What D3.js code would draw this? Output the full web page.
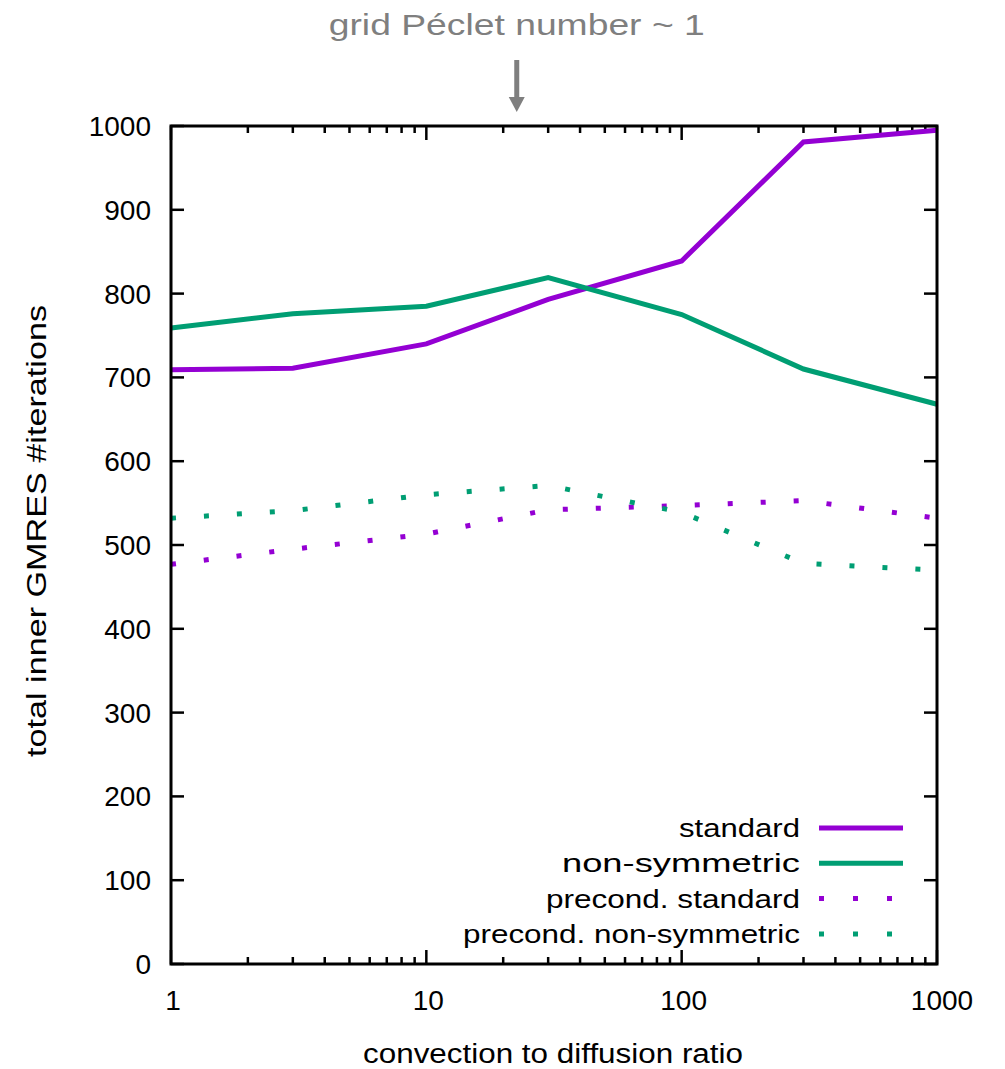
<!DOCTYPE html>
<html>
<head>
    <meta charset="utf-8">
    <title>GMRES iterations</title>
    <script type="text/javascript" src="https://d3js.org/d3.v7.min.js"></script>
    <style>
        body{ margin:0px; background:#ffffff; }
        svg{ position:absolute; left:0px; top:0px; }
        text{ font-family:"Liberation Sans", Arial, sans-serif; }
    </style>
</head>
<body>
    <div id="chart"></div>
    <script type="text/javascript">
        // data
        var ratios = [1, 3, 10, 30, 100, 300, 1000]
        var standard = [709, 711, 740, 793, 839, 981, 995]
        var nonSymmetric = [759, 776, 785, 819, 775, 710, 668]
        var precStandard = [477, 495, 513, 542, 547, 553, 532]
        var precNonSymmetric = [532, 541, 560, 571, 539, 478, 470]
        var xTicks = [1, 10, 100, 1000]
        var yTicks = [0, 100, 200, 300, 400, 500, 600, 700, 800, 900, 1000]
        var pecletRatio = 22.6

        var series = [
            {name:"standard", values:standard, color:"#9400d3", dotted:false},
            {name:"non-symmetric", values:nonSymmetric, color:"#009e73", dotted:false},
            {name:"precond. standard", values:precStandard, color:"#9400d3", dotted:true},
            {name:"precond. non-symmetric", values:precNonSymmetric, color:"#009e73", dotted:true}
        ]

        var width = 1005, height = 1069
        var pLeft = 171, pRight = 937, pTop = 126, pBottom = 964

        var svg = d3.select("#chart").append("svg")
            .attr("width", width)
            .attr("height", height)

        var x = d3.scaleLog().domain([1, 1000]).range([pLeft, pRight])
        var y = d3.scaleLinear().domain([0, 1000]).range([pBottom, pTop])

        // minor ticks 2..9 per decade
        var minor = []
        for(var d = 1; d < 1000; d *= 10){
            for(var k = 2; k < 10; k++){ minor.push(d*k) }
        }

        var axisG = svg.append("g")
        function drawTicks(g, vals, scale, horizontal, len){
            vals.forEach(function(v){
                var p = scale(v)
                if(horizontal){
                    g.append("line").attr("x1",p).attr("x2",p).attr("y1",pBottom).attr("y2",pBottom-len)
                    g.append("line").attr("x1",p).attr("x2",p).attr("y1",pTop).attr("y2",pTop+len)
                }else{
                    g.append("line").attr("y1",p).attr("y2",p).attr("x1",pLeft).attr("x2",pLeft+len)
                    g.append("line").attr("y1",p).attr("y2",p).attr("x1",pRight).attr("x2",pRight-len)
                }
            })
        }
        axisG.attr("stroke","#000").attr("stroke-width",2.5)
        drawTicks(axisG, xTicks, x, true, 14)
        drawTicks(axisG, minor, x, true, 7)
        drawTicks(axisG, yTicks, y, false, 13)

        // tick labels
        svg.append("g").selectAll("text").data(yTicks).enter().append("text")
            .attr("x", 151)
            .attr("y", function(d){ return y(d) + 10 })
            .attr("text-anchor","end")
            .attr("font-size", 28)
            .text(function(d){ return d })
        svg.append("g").selectAll("text").data(xTicks).enter().append("text")
            .attr("x", function(d){ return x(d) + (d == 1000 ? 5 : 2) })
            .attr("y", 1010)
            .attr("text-anchor","middle")
            .attr("font-size", 28)
            .text(function(d){ return d })

        // lines
        var line = d3.line()
            .x(function(d,i){ return x(ratios[i]) })
            .y(function(d){ return y(d) })

        var plot = svg.append("g")
        series.forEach(function(s){
            var p = plot.append("path")
                .attr("d", line(s.values))
                .attr("fill","none")
                .attr("stroke", s.color)
                .attr("stroke-width", 5)
            if(s.dotted){
                p.attr("stroke-dasharray","5,28")
            }
        })

        // frame
        svg.append("rect")
            .attr("x", pLeft).attr("y", pTop)
            .attr("width", pRight-pLeft).attr("height", pBottom-pTop)
            .attr("fill","none").attr("stroke","#000").attr("stroke-width",3)

        // legend
        var legend = svg.append("g")
        series.forEach(function(s,i){
            var ly = 828 + i*35.3
            legend.append("text")
                .attr("x", 800).attr("y", ly + 9)
                .attr("text-anchor","end")
                .attr("font-size", 26)
                .attr("textLength", [121, 238, 254, 337][i])
                .attr("lengthAdjust","spacingAndGlyphs")
                .text(s.name)
            var l = legend.append("line")
                .attr("x1", 819).attr("x2", 903)
                .attr("y1", ly).attr("y2", ly)
                .attr("stroke", s.color).attr("stroke-width", 5)
            if(s.dotted){ l.attr("stroke-dasharray","5,29") }
        })

        // axis titles
        svg.append("text")
            .attr("x", 553).attr("y", 1063)
            .attr("text-anchor","middle")
            .attr("font-size", 27)
            .attr("textLength", 380)
            .attr("lengthAdjust","spacingAndGlyphs")
            .text("convection to diffusion ratio")
        svg.append("text")
            .attr("transform","translate(46,531) rotate(-90)")
            .attr("text-anchor","middle")
            .attr("font-size", 27)
            .attr("textLength", 452)
            .attr("lengthAdjust","spacingAndGlyphs")
            .text("total inner GMRES #iterations")

        // annotation
        var ax = x(pecletRatio)
        svg.append("text")
            .attr("x", ax).attr("y", 35)
            .attr("text-anchor","middle")
            .attr("font-size", 30)
            .attr("fill","#7f7f7f")
            .attr("textLength", 376)
            .attr("lengthAdjust","spacingAndGlyphs")
            .text("grid Péclet number ~ 1")
        svg.append("line")
            .attr("x1", ax).attr("x2", ax).attr("y1", 60).attr("y2", 99)
            .attr("stroke","#7f7f7f").attr("stroke-width", 5)
        svg.append("path")
            .attr("d", "M" + (ax-8) + ",97 L" + (ax+8) + ",97 L" + ax + ",112 Z")
            .attr("fill","#7f7f7f")
    </script>
</body>
</html>
